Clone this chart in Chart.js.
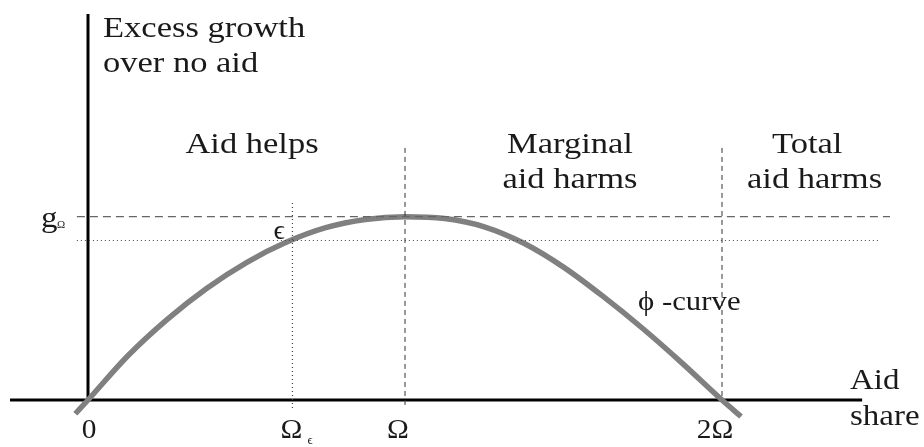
<!DOCTYPE html>
<html>
<head>
<meta charset="utf-8">
<script src="https://cdn.jsdelivr.net/npm/chart.js@4"></script>
<style>
  html, body { margin: 0; padding: 0; background: #fff; }
  #wrap { width: 924px; height: 447px; }
</style>
</head>
<body>
<div id="wrap"><canvas id="myChart" width="924" height="447"></canvas></div>
<script>
// aid share in units of Omega, excess growth in units of g_Omega
var curveX = [-0.04, 0, 0.125, 0.25, 0.375, 0.5, 0.625, 0.75, 0.875, 1.0, 1.125, 1.25, 1.375, 1.5, 1.625, 1.75, 1.875, 2.0, 2.06];
var curveY = [-0.075, 0, 0.24, 0.44, 0.61, 0.75, 0.86, 0.94, 0.985, 1.0, 0.99, 0.945, 0.855, 0.725, 0.565, 0.39, 0.2, 0.0, -0.09];

var omegaEps = 0.645;   // Ω_ε
var gEps = 0.87;        // growth at Ω_ε
var gOmega = 1.0;       // peak g_Ω

var tickValues = [0, omegaEps, 1, 2];
var tickLabels = ['0', 'Ω', 'Ω', '2Ω'];

var FONT = '"Liberation Serif", "Times New Roman", Times, serif';

function pts(xs, ys) {
  return xs.map(function(x, i) { return { x: x, y: ys[i] }; });
}

function drawText(c, str, x, y, size, sx, align) {
  c.save();
  c.font = size + 'px ' + FONT;
  c.fillStyle = '#1a1a1a';
  c.textBaseline = 'alphabetic';
  var w = c.measureText(str).width * sx;
  if (align === 'center') x -= w / 2;
  c.translate(x, y);
  c.scale(sx, 1);
  c.fillText(str, 0, 0);
  c.restore();
}

var labelsPlugin = {
  id: 'labels',
  afterDraw: function(chart) {
    var c = chart.ctx;
    var xs = chart.scales.x;
    var ys = chart.scales.y;

    drawText(c, 'Excess growth', 103, 37, 30, 1.15);
    drawText(c, 'over no aid', 103, 72, 30, 1.15);
    drawText(c, 'Aid helps', 252, 153, 30, 1.15, 'center');
    drawText(c, 'Marginal', 570, 153, 30, 1.15, 'center');
    drawText(c, 'aid harms', 570, 188, 30, 1.15, 'center');
    drawText(c, 'Total', 772, 153, 30, 1.15);
    drawText(c, 'aid harms', 747, 188, 30, 1.15);
    drawText(c, 'Aid', 850, 389, 30, 1.1);
    drawText(c, 'share', 850, 425, 30, 1.1);
    drawText(c, 'ϕ -curve', 638, 310, 28, 1.1);

    // g_Omega on the y side
    var gy = ys.getPixelForValue(gOmega);
    drawText(c, 'g', 41, gy + 10, 30, 1.1);
    drawText(c, 'Ω', 57, gy + 11, 11, 1.0);
    // epsilon point
    drawText(c, 'ϵ', xs.getPixelForValue(omegaEps) - 19, ys.getPixelForValue(gEps) - 2, 28, 1.0);

    // x tick labels
    var base = ys.getPixelForValue(0) + 38;
    var dx = [1, -1, -7, -7];
    tickValues.forEach(function(v, i) {
      drawText(c, tickLabels[i], xs.getPixelForValue(v) + dx[i], base, 28, 1.05, 'center');
    });
    drawText(c, 'ϵ', xs.getPixelForValue(omegaEps) + 15, base + 6, 13, 1.0);
  }
};

function makeChart() {
  var ctx = document.getElementById('myChart').getContext('2d');
  new Chart(ctx, {
    type: 'line',
    data: {
      datasets: [
        {
          // g_Omega dashed level
          data: pts([-0.035, 2.53], [gOmega, gOmega]),
          borderColor: '#666',
          borderWidth: 1.3,
          borderDash: [8, 5],
          order: 0
        },
        {
          // dotted level at Omega_eps
          data: pts([-0.035, 2.5], [gEps, gEps]),
          borderColor: '#444',
          borderWidth: 1.2,
          borderDash: [1, 3],
          order: 0
        },
        {
          data: pts([omegaEps, omegaEps], [1.075, -0.045]),
          borderColor: '#444',
          borderWidth: 1.2,
          borderDash: [1, 3],
          order: 0
        },
        {
          data: pts([1, 1], [1.375, -0.03]),
          borderColor: '#333',
          borderWidth: 1,
          borderDash: [5, 4],
          order: 0
        },
        {
          data: pts([2, 2], [1.375, 0]),
          borderColor: '#333',
          borderWidth: 1,
          borderDash: [5, 4],
          order: 0
        },
        {
          // phi-curve
          data: pts(curveX, curveY),
          borderColor: '#808080',
          borderWidth: 5.5,
          cubicInterpolationMode: 'monotone',
          order: 1
        },
        {
          // x axis
          data: pts([-0.246, 2.442], [0, 0]),
          borderColor: '#000',
          borderWidth: 3,
          order: 2
        },
        {
          // y axis
          data: pts([0, 0], [0, 2.106]),
          borderColor: '#000',
          borderWidth: 3,
          order: 2
        }
      ]
    },
    options: {
      responsive: false,
      animation: false,
      layout: { padding: 0 },
      elements: { point: { radius: 0 } },
      plugins: {
        legend: { display: false },
        tooltip: { enabled: false }
      },
      scales: {
        x: { type: 'linear', display: false, min: -0.2776, max: 2.6372 },
        y: { type: 'linear', display: false, min: -0.2564, max: 2.182 }
      }
    },
    plugins: [labelsPlugin]
  });
}

if (document.fonts && document.fonts.load) {
  Promise.all([
    document.fonts.load('30px "Liberation Serif"'),
    document.fonts.load('30px "Times New Roman"')
  ]).then(makeChart, makeChart);
} else {
  makeChart();
}
</script>
</body>
</html>
